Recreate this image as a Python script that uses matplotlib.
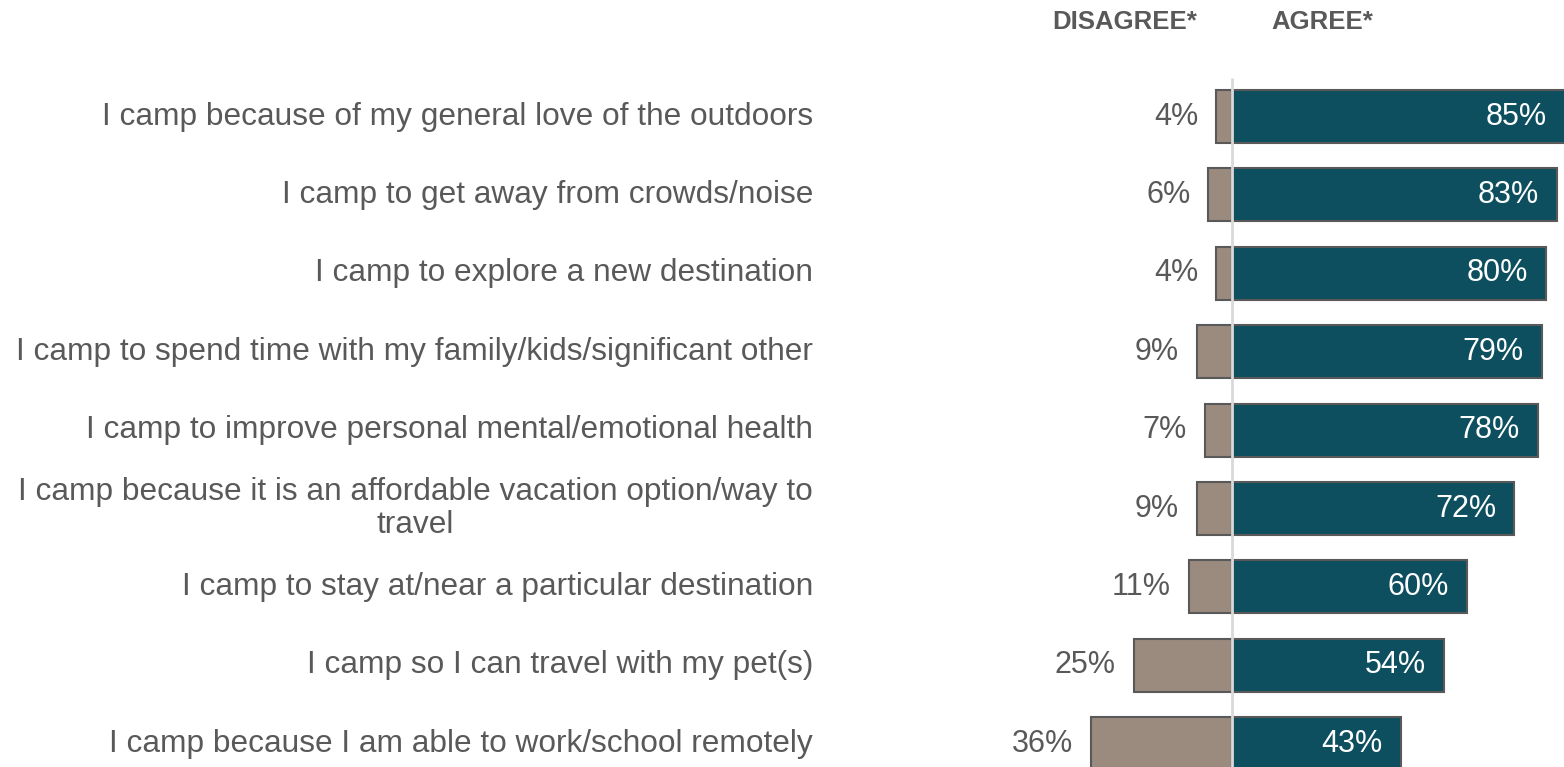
import matplotlib.pyplot as plt
import numpy as np

plt.rcParams['font.family'] = ['Liberation Sans', 'DejaVu Sans']

# survey results: reasons for camping
reasons = [
    'I camp because of my general love of the outdoors',
    'I camp to get away from crowds/noise',
    'I camp to explore a new destination',
    'I camp to spend time with my family/kids/significant other',
    'I camp to improve personal mental/emotional health',
    'I camp because it is an affordable vacation option/way to\ntravel',
    'I camp to stay at/near a particular destination',
    'I camp so I can travel with my pet(s)',
    'I camp because I am able to work/school remotely',
]
disagree = [4, 6, 4, 9, 7, 9, 11, 25, 36]
agree = [85, 83, 80, 79, 78, 72, 60, 54, 43]

text_color = '#595959'
agree_color = '#0D4F5F'
disagree_color = '#9B8A7E'
edge_color = '#595959'


def plot_diverging_bars(reasons, disagree, agree):
    fig = plt.figure(figsize=(15.64, 7.67), dpi=100)
    ax = fig.add_axes([0, 0, 1, 1])
    ax.set_xlim(-314.3, 84.7)
    ax.set_ylim(8.297, -1.486)
    ax.axis('off')

    y = np.arange(len(reasons))
    ax.barh(y, [-d for d in disagree], height=0.676, color=disagree_color,
            edgecolor=edge_color, linewidth=1.5, zorder=2)
    ax.barh(y, agree, height=0.676, color=agree_color,
            edgecolor=edge_color, linewidth=1.5, zorder=2)

    # light centre line through zero
    ax.vlines(0, -0.49, 8.4, color='#D9D9D9', linewidth=2, zorder=3)

    for i, (d, a) in enumerate(zip(disagree, agree)):
        ax.annotate(f'{a}%', (a, i), xytext=(-18, 0), textcoords='offset pixels',
                    ha='right', va='center', color='white', fontsize=22,
                    annotation_clip=False)
        ax.annotate(f'{d}%', (-d, i), xytext=(-18, 0), textcoords='offset pixels',
                    ha='right', va='center', color=text_color, fontsize=22,
                    annotation_clip=False)
        ax.text(-106.9, i, reasons[i], ha='right', va='center',
                multialignment='center', color=text_color, fontsize=22.8,
                linespacing=1.1)

    ax.text(-27.3, -1.2, 'DISAGREE*', ha='center', va='center',
            fontsize=18.5, fontweight='bold', color=text_color)
    ax.text(23.0, -1.2, 'AGREE*', ha='center', va='center',
            fontsize=18.5, fontweight='bold', color=text_color)

    fig.savefig('out.png', dpi=100, facecolor='white')


if __name__ == '__main__':
    plot_diverging_bars(reasons, disagree, agree)
